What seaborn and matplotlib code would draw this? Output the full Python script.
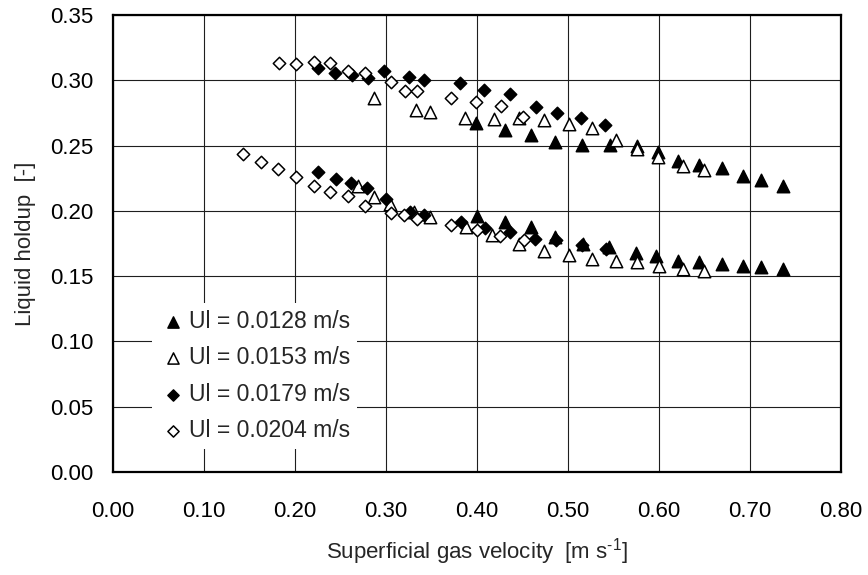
import numpy as np
import pandas as pd
import matplotlib
matplotlib.use("Agg")
import matplotlib.pyplot as plt
import seaborn as sns
from matplotlib.ticker import MultipleLocator, FormatStrFormatter

# ---------------- data ----------------
series_labels = ["Ul = 0.0128 m/s", "Ul = 0.0153 m/s", "Ul = 0.0179 m/s", "Ul = 0.0204 m/s"]

ul0128_upper_x = [0.399, 0.431, 0.459, 0.486, 0.5155, 0.546, 0.576, 0.599, 0.621, 0.644, 0.669, 0.692, 0.712, 0.736]
ul0128_upper_y = [0.267, 0.262, 0.258, 0.253, 0.2507, 0.2507, 0.250, 0.245, 0.238, 0.235, 0.2325, 0.2266, 0.224, 0.219]
ul0128_lower_x = [0.3996, 0.4305, 0.459, 0.4857, 0.516, 0.5456, 0.575, 0.597, 0.621, 0.644, 0.669, 0.692, 0.712, 0.736]
ul0128_lower_y = [0.1962, 0.1911, 0.1873, 0.1796, 0.1745, 0.172, 0.1674, 0.1656, 0.1617, 0.1605, 0.1592, 0.1579, 0.1567, 0.1554]

ul0153_upper_x = [0.2865, 0.3325, 0.348, 0.3866, 0.4182, 0.4462, 0.4734, 0.501, 0.5265, 0.553, 0.576, 0.599, 0.626, 0.649]
ul0153_upper_y = [0.2863, 0.2774, 0.2754, 0.2711, 0.2703, 0.2711, 0.2693, 0.2668, 0.2633, 0.2545, 0.2475, 0.241, 0.2347, 0.231]
ul0153_lower_x = [0.2697, 0.2873, 0.304, 0.3304, 0.348, 0.3874, 0.4168, 0.4462, 0.474, 0.501, 0.5265, 0.553, 0.576, 0.600, 0.626, 0.649]
ul0153_lower_y = [0.219, 0.2105, 0.2051, 0.1988, 0.195, 0.1873, 0.1814, 0.1745, 0.1694, 0.1665, 0.163, 0.1617, 0.1605, 0.158, 0.1554, 0.1541]

ul0179_upper_x = [0.2255, 0.2435, 0.2627, 0.2803, 0.2983, 0.3252, 0.3414, 0.3818, 0.408, 0.4363, 0.4653, 0.4878, 0.514, 0.541]
ul0179_upper_y = [0.3091, 0.3058, 0.3041, 0.3015, 0.3074, 0.3028, 0.3003, 0.2977, 0.2929, 0.2898, 0.2794, 0.2751, 0.271, 0.266]
ul0179_lower_x = [0.2255, 0.2447, 0.2612, 0.2796, 0.2995, 0.3267, 0.3422, 0.382, 0.4084, 0.436, 0.464, 0.4868, 0.515, 0.542]
ul0179_lower_y = [0.2294, 0.2243, 0.2212, 0.2174, 0.209, 0.1992, 0.1972, 0.1911, 0.1865, 0.1835, 0.1783, 0.1778, 0.1735, 0.1705]

ul0204_upper_x = [0.182, 0.2016, 0.221, 0.2387, 0.258, 0.2773, 0.3057, 0.3204, 0.3344, 0.3712, 0.399, 0.426, 0.4506]
ul0204_upper_y = [0.3135, 0.3124, 0.3137, 0.313, 0.3074, 0.3053, 0.299, 0.2919, 0.2916, 0.2868, 0.2832, 0.2805, 0.2718]
ul0204_lower_x = [0.143, 0.1625, 0.1817, 0.2016, 0.2204, 0.2384, 0.258, 0.2774, 0.3057, 0.3193, 0.334, 0.3709, 0.4003, 0.4253, 0.4518]
ul0204_lower_y = [0.2439, 0.2376, 0.2318, 0.2261, 0.2188, 0.2146, 0.2112, 0.2038, 0.198, 0.1967, 0.1936, 0.189, 0.1852, 0.1809, 0.1775]

x_ticks = [0.00, 0.10, 0.20, 0.30, 0.40, 0.50, 0.60, 0.70, 0.80]
y_ticks = [0.00, 0.05, 0.10, 0.15, 0.20, 0.25, 0.30, 0.35]

# ---------------- build table ----------------
xs = [ul0128_upper_x + ul0128_lower_x, ul0153_upper_x + ul0153_lower_x,
      ul0179_upper_x + ul0179_lower_x, ul0204_upper_x + ul0204_lower_x]
ys = [ul0128_upper_y + ul0128_lower_y, ul0153_upper_y + ul0153_lower_y,
      ul0179_upper_y + ul0179_lower_y, ul0204_upper_y + ul0204_lower_y]
frames = []
for lab, x, y in zip(series_labels, xs, ys):
    frames.append(pd.DataFrame({"ug": x, "holdup": y, "series": lab}))
df = pd.concat(frames, ignore_index=True)

# ---------------- style ----------------
sns.set_style("white")
plt.rcParams['font.family'] = ['Liberation Sans', 'DejaVu Sans']
plt.rcParams['mathtext.fontset'] = 'custom'
plt.rcParams['mathtext.rm'] = 'Liberation Sans'
plt.rcParams['mathtext.it'] = 'Liberation Sans:italic'
plt.rcParams['axes.unicode_minus'] = False

FS = 16
FS_LEG = 16.6
fig = plt.figure(figsize=(8.68, 5.75), dpi=100)
ax = fig.add_axes([113 / 868, 1 - 472 / 575, 728 / 868, 457 / 575])

marker_styles = {
    series_labels[0]: dict(marker="^", facecolor="black", s=80),
    series_labels[1]: dict(marker="^", facecolor="white", s=80),
    series_labels[2]: dict(marker="D", facecolor="black", s=40),
    series_labels[3]: dict(marker="D", facecolor="white", s=40),
}
for i, lab in enumerate(series_labels):
    st = marker_styles[lab]
    sns.scatterplot(data=df[df["series"] == lab], x="ug", y="holdup", ax=ax,
                    marker=st["marker"], s=st["s"], color=st["facecolor"],
                    edgecolor="black", linewidth=1.1, label=lab, zorder=3 + i)

ax.set_xlim(x_ticks[0], x_ticks[-1])
ax.set_ylim(y_ticks[0], y_ticks[-1])
ax.set_xticks(x_ticks)
ax.set_yticks(y_ticks)
ax.xaxis.set_major_formatter(FormatStrFormatter("%.2f"))
ax.yaxis.set_major_formatter(FormatStrFormatter("%.2f"))
ax.set_axisbelow(True)
ax.grid(True, color="#1e1e1e", linewidth=0.8)
for sp in ax.spines.values():
    sp.set_color("black")
    sp.set_linewidth(1.6)
ax.tick_params(axis="both", which="major", direction="out", length=4, width=1,
               labelsize=FS, colors="black")
ax.tick_params(axis="x", pad=17)
ax.tick_params(axis="y", pad=10)

ax.set_xlabel("Superficial gas velocity  [m s$^{\u20101}$]", fontsize=FS, labelpad=10)
ax.set_ylabel("Liquid holdup  [-]", fontsize=FS, labelpad=10)

leg = ax.legend(loc="lower left", bbox_to_anchor=(0.054, 0.05), frameon=True,
                facecolor="white", edgecolor="none", framealpha=1, fancybox=False,
                fontsize=FS_LEG, handletextpad=0.1, handlelength=1.2, borderpad=0.3,
                labelspacing=0.58, markerscale=0.9, borderaxespad=0)
leg.set_zorder(10)

fig.savefig("out.png", dpi=100)
